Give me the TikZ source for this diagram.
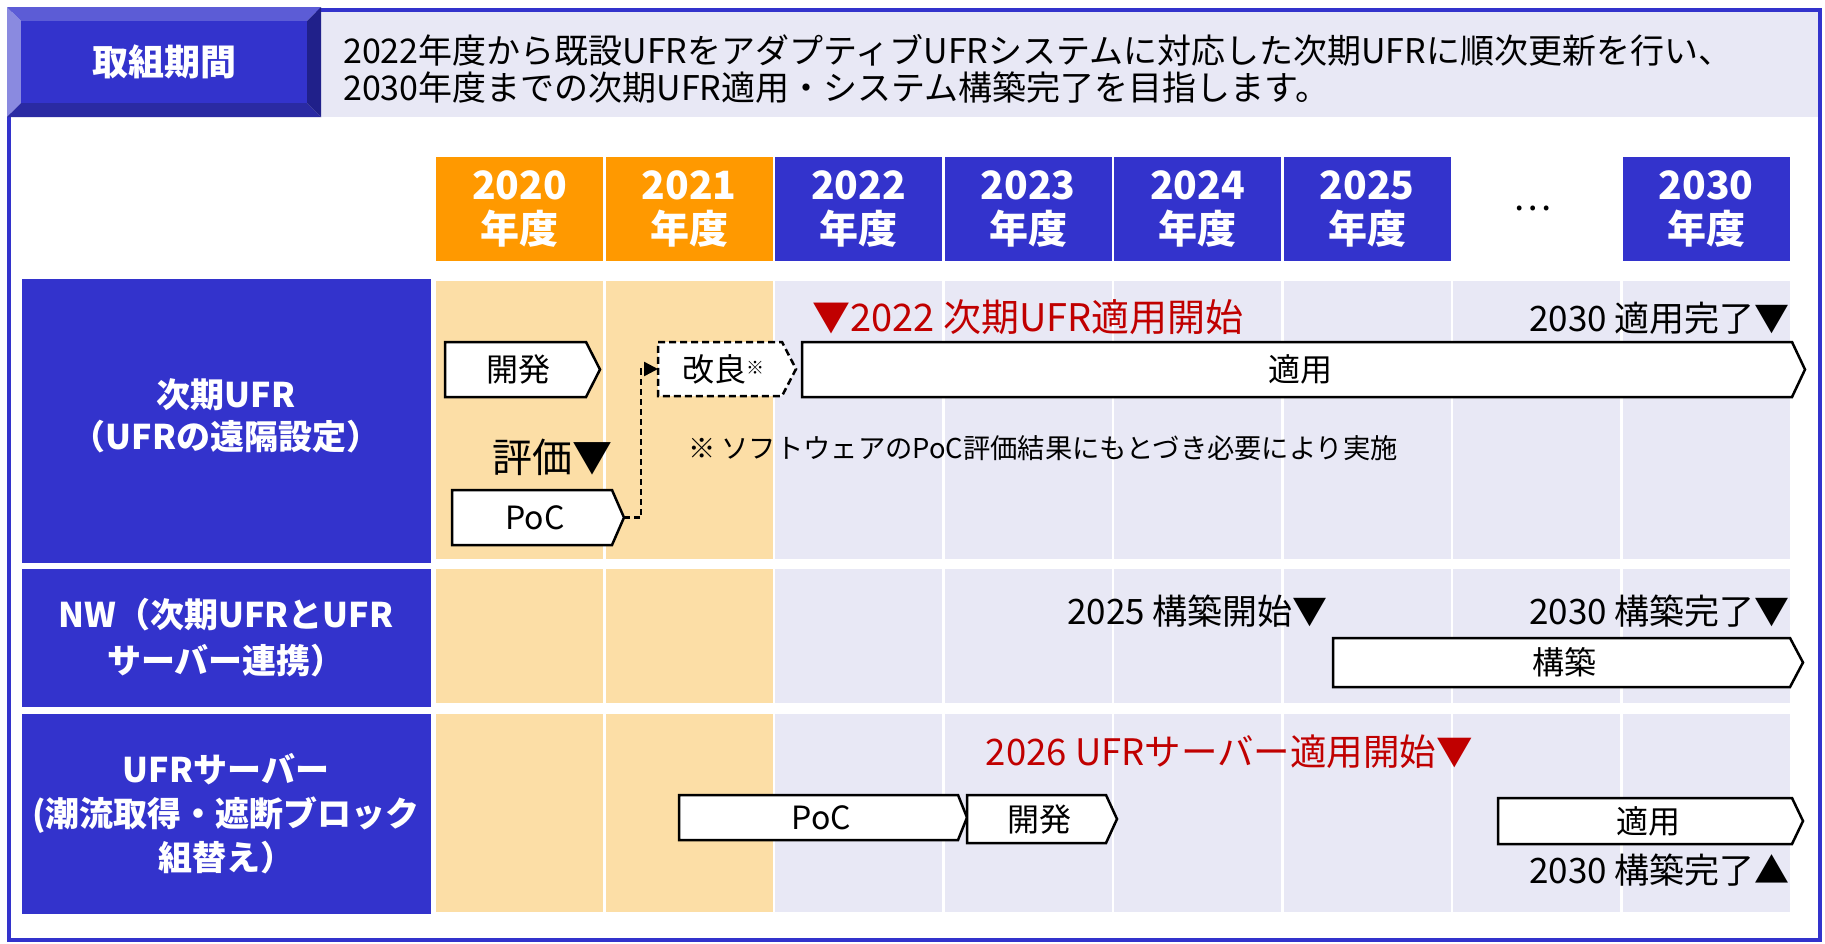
\documentclass[tikz,border=0pt]{standalone}
\usepackage{fontspec}
\setmainfont{Noto Sans CJK JP}
\usetikzlibrary{arrows.meta}
\definecolor{ublue}{HTML}{3333CC}
\definecolor{uorange}{HTML}{FF9900}
\definecolor{upeach}{HTML}{FCDEA6}
\definecolor{ulav}{HTML}{E8E8F5}
\definecolor{ured}{HTML}{C00000}
\definecolor{bvtop}{HTML}{5C5CD6}
\definecolor{bvleft}{HTML}{8A8AE0}
\definecolor{bvbot}{HTML}{2A2AA3}
\definecolor{bvright}{HTML}{20208A}
\newcommand\fsz[2]{\fontsize{#1}{#2}\selectfont}
% chevron: [style] name x1 x2 tip y1 y2 text
\newcommand\chev[8][]{%
  \draw[chevbox,#1] (#3,#6) -- (#4,#6) -- (#5,{(#6+#7)/2}) -- (#4,#7) -- (#3,#7) -- cycle;
  \coordinate (#2-w) at (#3,{(#6+#7)/2});
  \coordinate (#2-e) at (#5,{(#6+#7)/2});
  \node[chevtext] (#2) at ({(#3+#4)/2+3},{(#6+#7)/2}) {#8};
}
\tikzset{
  yearbox/.style={minimum width=167pt, minimum height=104pt, inner sep=0pt, text=white,
    font=\bfseries\fsz{39}{44}, align=center},
  labelbox/.style={fill=ublue, minimum width=409pt, inner sep=0pt, text=white, align=center},
  chevbox/.style={draw=black, fill=white, line width=2.5pt, line join=miter},
  dashbox/.style={dash pattern=on 7pt off 4pt},
  chevtext/.style={font=\fsz{32}{36}, inner sep=0pt},
  mstext/.style={font=\fsz{35}{40}, inner sep=0pt},
  redtext/.style={mstext, text=ured},
  notetext/.style={font=\fsz{27.3}{32}, inner sep=0pt},
  hdtext/.style={font=\fsz{34}{38}, inner sep=0pt, anchor=west},
  connector/.style={line width=2.5pt, dash pattern=on 6pt off 4pt, -{Triangle[length=14pt,width=14pt]}},
}
\begin{document}
\begin{tikzpicture}[x=1pt,y=-1pt]
\useasboundingbox (0,0) rectangle (1825,943);
\fill[white] (0,0) rectangle (1825,943);
% header band
\fill[ulav] (321,10) rectangle (1820,117);
\draw[ublue, line width=4pt] (9,10) rectangle (1820,940);
% bevel button
\fill[bvtop] (7,7) -- (321,7) -- (307,21) -- (21,21) -- cycle;
\fill[bvleft] (7,7) -- (21,21) -- (21,103) -- (7,117) -- cycle;
\fill[bvbot] (7,117) -- (21,103) -- (307,103) -- (321,117) -- cycle;
\fill[bvright] (321,7) -- (321,117) -- (307,103) -- (307,21) -- cycle;
\fill[ublue] (21,21) rectangle (307,103);
\node[text=white, font=\bfseries\fsz{36}{40}, inner sep=0pt] (title) at (164,62) {取組期間};
\node[hdtext] (hd1) at (343,50) {2022年度から既設UFRをアダプティブUFRシステムに対応した次期UFRに順次更新を行い、};
\node[hdtext] (hd2) at (343,88) {2030年度までの次期UFR適用・システム構築完了を目指します。};
% year headers
\foreach \i/\yr/\col in {0/2020/uorange,1/2021/uorange,2/2022/ublue,3/2023/ublue,4/2024/ublue,5/2025/ublue,7/2030/ublue}{
  \node[yearbox, fill=\col] (y\yr) at ({436+169.5*\i+83.5},209) {\yr\\年度};
}
\node[font=\fsz{36}{40}, inner sep=0pt] (dots) at (1533,208) {…};
% cells
\foreach \i in {0,...,7}{
  \pgfmathsetmacro\cx{436+169.5*\i}
  \ifnum\i<2 \def\cc{upeach}\else\def\cc{ulav}\fi
  \fill[\cc] (\cx,281) rectangle +(167,278);
  \fill[\cc] (\cx,569) rectangle +(167,134);
  \fill[\cc] (\cx,714) rectangle +(167,198);
}
% row labels
\node[labelbox, minimum height=284pt, font=\bfseries\fsz{34}{42}] (lab1) at (226,421) {};
\node[text=white, align=center, inner sep=0pt, font=\bfseries\fsz{34}{42}] (lab1t) at (226,416) {次期UFR\\（UFRの遠隔設定）};
\node[labelbox, minimum height=138pt, font=\bfseries\fsz{34}{46}] (lab2) at (226,638) {NW（次期UFRとUFR\\サーバー連携）};
\node[labelbox, minimum height=200pt, font=\bfseries\fsz{34}{44}] (lab3) at (226,814) {UFRサーバー\\(潮流取得・遮断ブロック\\組替え）};
% row 1
\chev{dev1}{445}{586}{600}{342}{397}{開発}
\chev[dashbox]{kai}{658}{782}{796}{342}{396}{改良\raisebox{7pt}{\fsz{18}{18}※}}
\chev{app1}{802}{1792}{1805}{342}{397}{適用}
\node[font=\fsz{40}{44}, inner sep=0pt] (hyoka) at (552,457) {評価▼};
\chev{poc1}{452}{612}{624}{490}{545}{PoC}
\draw[connector] (poc1-e) -- ++(17,0) |- (kai-w);
\node[notetext, anchor=west] (note) at (688,448) {※ ソフトウェアのPoC評価結果にもとづき必要により実施};
\node[redtext, font=\fsz{38}{42}, anchor=west] (ms1) at (812,317) {▼2022 次期UFR適用開始};
\node[mstext, anchor=east] (ms2) at (1790,318) {2030 適用完了▼};
% row 2
\node[mstext, anchor=east] (ms3) at (1328,611) {2025 構築開始▼};
\node[mstext, anchor=east] (ms4) at (1790,611) {2030 構築完了▼};
\chev{build}{1333}{1790}{1803}{638}{687}{構築}
% row 3
\node[redtext, font=\fsz{36.5}{40}, anchor=east] (ms5) at (1473,752) {2026 UFRサーバー適用開始▼};
\chev{poc3}{679}{958}{967}{795}{840}{PoC}
\chev{dev3}{967}{1106}{1117}{795}{843}{開発}
\chev{app3}{1498}{1792}{1803}{798}{844}{適用}
\node[mstext, anchor=east] (ms6) at (1790,870) {2030 構築完了▲};
\end{tikzpicture}
\end{document}
